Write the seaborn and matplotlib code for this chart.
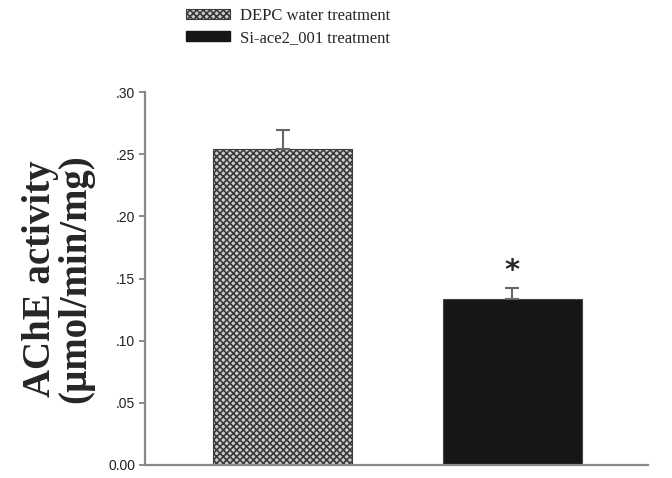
import matplotlib
matplotlib.use("Agg")
import matplotlib.pyplot as plt
import seaborn as sns
import pandas as pd
from matplotlib.patches import Patch

# data
groups = ["DEPC water treatment", "Si-ace2_001 treatment"]
activity = [0.254, 0.1335]
sem = [0.0155, 0.009]
yticks = [0.00, 0.05, 0.10, 0.15, 0.20, 0.25, 0.30]
ytick_labels = ["0.00", ".05", ".10", ".15", ".20", ".25", ".30"]

df = pd.DataFrame({"group": groups, "activity": activity})

sns.set_style("white")
plt.rcParams["hatch.color"] = "#2a2a2a"
plt.rcParams["hatch.linewidth"] = 1.2

fig = plt.figure(figsize=(6.72, 4.78), dpi=100)
ax = fig.add_axes([0.2158, 0.0272, 0.7482, 0.7803])

sns.barplot(data=df, x="group", y="activity", ax=ax, width=0.605,
            palette=["#cccccc", "#161616"], hue="group", legend=False,
            errorbar=None, saturation=1)

bars = ax.patches
bars[0].set_hatch("xxxxx")
bars[0].set_edgecolor("#3a3a3a")
bars[0].set_linewidth(0.8)
bars[1].set_edgecolor("#444444")
bars[1].set_linewidth(0.8)

# upper error bars only
ax.errorbar(range(len(groups)), activity, yerr=[[0] * len(sem), sem],
            fmt="none", ecolor="#666666", elinewidth=1.5, capsize=5, capthick=1.5)

# significance mark
ax.text(1, activity[1] + sem[1] + 0.0025, "*", ha="center", va="bottom",
        fontsize=21, fontweight="bold", family="DejaVu Sans")

ax.set_xlim(-0.6, 1.59)
ax.set_ylim(0, 0.30)
ax.set_yticks(yticks)
ax.set_yticklabels(ytick_labels, family="Liberation Sans", fontsize=10, color="#222222")
ax.set_xticks([])
ax.set_xlabel("")
ax.set_ylabel("AChE activity\n(\u00b5mol/min/mg)", family="Liberation Serif",
              fontweight="bold", fontsize=28, linespacing=0.95, labelpad=10)
ax.tick_params(axis="y", direction="out", length=4, width=1.2, color="#777777", left=True, pad=3)

for side in ["top", "right"]:
    ax.spines[side].set_visible(False)
for side in ["left", "bottom"]:
    ax.spines[side].set_color("#888888")
    ax.spines[side].set_linewidth(1.6)

handles = [Patch(facecolor="#cccccc", edgecolor="#3a3a3a", hatch="xxxxx", linewidth=0.8),
           Patch(facecolor="#161616", edgecolor="#161616")]
fig.legend(handles, groups, loc="upper left", bbox_to_anchor=(0.255, 1.015),
           frameon=False, prop={"family": "Liberation Serif", "size": 12},
           handlelength=2.6, handleheight=0.55, labelspacing=0.35, handletextpad=0.6)

fig.savefig("out.png", dpi=100)
